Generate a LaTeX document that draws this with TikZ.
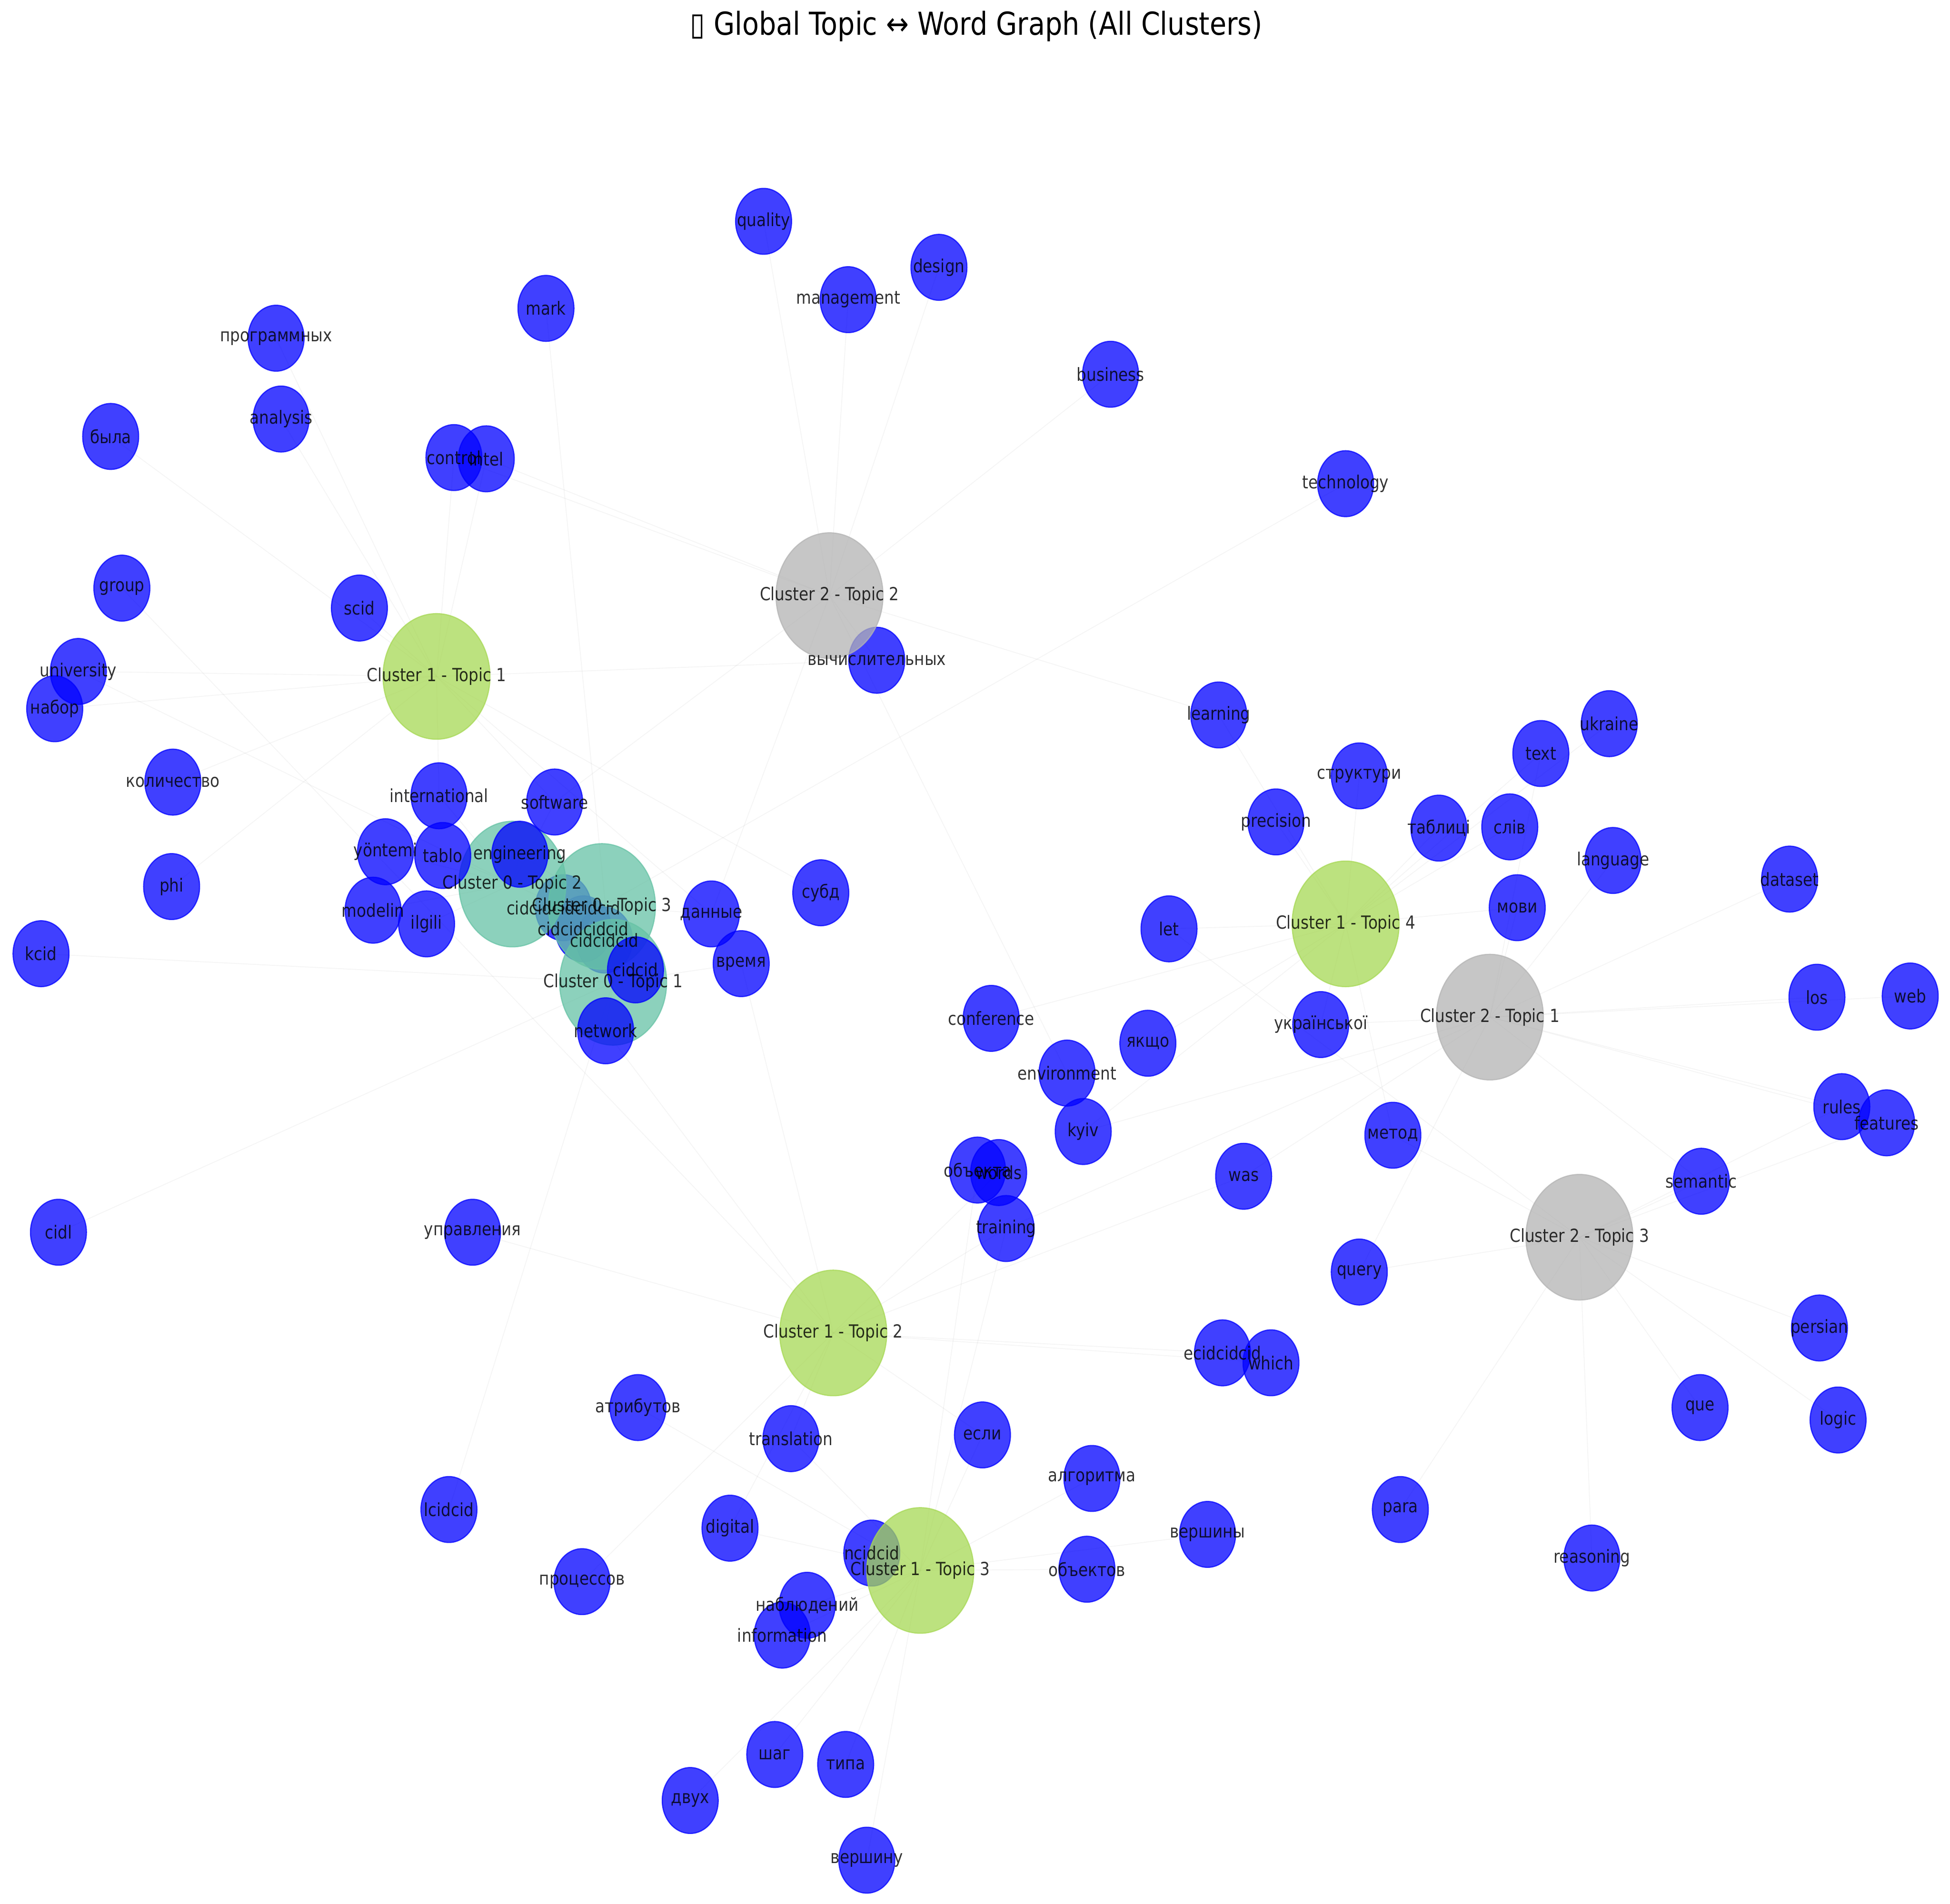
\documentclass[tikz,border=0pt]{standalone}
\usepackage{fontspec}
\setmainfont{DejaVu Sans}[FakeStretch=0.86]
\usepackage{tikz}
\usetikzlibrary{shapes.geometric}
\definecolor{wordblue}{RGB}{0, 0, 255}
\definecolor{clusterzero}{RGB}{102, 194, 165}
\definecolor{clusterone}{RGB}{166, 216, 84}
\definecolor{clustertwo}{RGB}{179, 179, 179}
\definecolor{edgegray}{RGB}{190, 190, 190}
\pgfdeclarelayer{edgelayer}
\pgfdeclarelayer{labellayer}
\pgfsetlayers{edgelayer,main,labellayer}
% node with its label on the top layer
\newcommand{\wnode}[4][word]{%
  \node[#1] (#2) at (#3) {};
  \begin{pgfonlayer}{labellayer}\node[lbl] at (#2) {#4};\end{pgfonlayer}}

\begin{document}
\begin{tikzpicture}[
    x=0.3mm, y=-0.3mm,
    word/.style={ellipse, fill=wordblue, draw=wordblue, opacity=0.75, line width=0.8pt, minimum width=13.5mm, minimum height=15.9mm, inner sep=0},
    topiczero/.style={word, fill=clusterzero, draw=clusterzero, minimum width=25.8mm, minimum height=30.3mm},
    topicone/.style={topiczero, fill=clusterone, draw=clusterone},
    topictwo/.style={topiczero, fill=clustertwo, draw=clustertwo},
    lbl/.style={font=\fontsize{12.4}{14}\selectfont, text=black, text opacity=0.8, inner sep=0},
    edge/.style={draw=edgegray, draw opacity=0.16, line width=0.6pt}
]
    \useasboundingbox (0,0) rectangle (1568,1531);
    \node[font=\fontsize{21.7}{26}\selectfont, inner sep=0] (title) at (785,21) {▯ Global Topic ↔ Word Graph (All Clusters)};

    % Words under the topics
    \wnode{vychisl}{705,531}{вычислительных}
    \wnode{ncidcid}{701,1249}{ncidcid}
    \wnode{cidfive}{453,730}{cidcidcidcidcid}
    \wnode{cidfour}{469,747}{cidcidcidcid}
    \wnode{cidthree}{486,756}{cidcidcid}

    % Topics
    \wnode[topiczero]{czt1}{493,790}{Cluster 0 - Topic 1}
    \wnode[topiczero]{czt2}{412,711}{Cluster 0 - Topic 2}
    \wnode[topiczero]{czt3}{484,729}{Cluster 0 - Topic 3}
    \wnode[topicone]{cot1}{351,544}{Cluster 1 - Topic 1}
    \wnode[topicone]{cot2}{670,1072}{Cluster 1 - Topic 2}
    \wnode[topicone]{cot3}{740,1263}{Cluster 1 - Topic 3}
    \wnode[topicone]{cot4}{1082,743}{Cluster 1 - Topic 4}
    \wnode[topictwo]{ctt1}{1198,818}{Cluster 2 - Topic 1}
    \wnode[topictwo]{ctt2}{667,479}{Cluster 2 - Topic 2}
    \wnode[topictwo]{ctt3}{1270,995}{Cluster 2 - Topic 3}

    % Words
    \wnode{quality}{614,178}{quality}
    \wnode{design}{755,215}{design}
    \wnode{management}{682,241}{management}
    \wnode{mark}{439,248}{mark}
    \wnode{programmnyh}{222,272}{программных}
    \wnode{business}{893,301}{business}
    \wnode{analysis}{226,337}{analysis}
    \wnode{byla}{89,351}{была}
    \wnode{control}{365,368}{control}
    \wnode{intel}{391,369}{intel}
    \wnode{technology}{1082,389}{technology}
    \wnode{group}{98,473}{group}
    \wnode{scid}{289,489}{scid}
    \wnode{university}{63,540}{university}
    \wnode{nabor}{44,570}{набор}
    \wnode{learning}{980,575}{learning}
    \wnode{ukraine}{1294,582}{ukraine}
    \wnode{text}{1239,606}{text}
    \wnode{kolichestvo}{139,629}{количество}
    \wnode{struktury}{1093,624}{структури}
    \wnode{international}{353,640}{international}
    \wnode{software}{446,645}{software}
    \wnode{precision}{1026,661}{precision}
    \wnode{tablytsi}{1157,666}{таблиці}
    \wnode{sliv}{1214,665}{слів}
    \wnode{yontemi}{310,685}{yöntemi}
    \wnode{tablo}{356,688}{tablo}
    \wnode{engineering}{418,687}{engineering}
    \wnode{language}{1297,692}{language}
    \wnode{dataset}{1439,707}{dataset}
    \wnode{phi}{138,713}{phi}
    \wnode{subd}{660,718}{субд}
    \wnode{modelin}{300,732}{modelin}
    \wnode{ilgili}{343,743}{ilgili}
    \wnode{dannye}{572,735}{данные}
    \wnode{movy}{1220,730}{мови}
    \wnode{let}{940,747}{let}
    \wnode{kcid}{33,767}{kcid}
    \wnode{vremya}{596,775}{время}
    \wnode{cidcid}{511,780}{cidcid}
    \wnode{network}{487,829}{network}
    \wnode{los}{1461,802}{los}
    \wnode{web}{1536,801}{web}
    \wnode{conference}{797,819}{conference}
    \wnode{ukrainskoi}{1062,824}{української}
    \wnode{yakshcho}{923,839}{якщо}
    \wnode{environment}{858,863}{environment}
    \wnode{rules}{1481,890}{rules}
    \wnode{features}{1517,903}{features}
    \wnode{kyiv}{871,910}{kyiv}
    \wnode{metod}{1120,913}{метод}
    \wnode{obiekta}{786,941}{объекта}
    \wnode{words}{803,943}{words}
    \wnode{was}{1000,946}{was}
    \wnode{semantic}{1368,950}{semantic}
    \wnode{training}{809,988}{training}
    \wnode{cidl}{47,991}{cidl}
    \wnode{upravleniya}{380,991}{управления}
    \wnode{query}{1093,1023}{query}
    \wnode{persian}{1463,1068}{persian}
    \wnode{ecidcidcid}{983,1088}{ecidcidcid}
    \wnode{which}{1022,1096}{which}
    \wnode{atributov}{513,1132}{атрибутов}
    \wnode{que}{1367,1132}{que}
    \wnode{logic}{1478,1142}{logic}
    \wnode{esli}{790,1154}{если}
    \wnode{translation}{636,1157}{translation}
    \wnode{algoritma}{878,1189}{алгоритма}
    \wnode{para}{1126,1214}{para}
    \wnode{lcidcid}{361,1214}{lcidcid}
    \wnode{digital}{587,1229}{digital}
    \wnode{vershiny}{971,1234}{вершины}
    \wnode{reasoning}{1280,1253}{reasoning}
    \wnode{obiektov}{874,1262}{объектов}
    \wnode{processov}{468,1272}{процессов}
    \wnode{nablyudeniy}{649,1291}{наблюдений}
    \wnode{information}{629,1315}{information}
    \wnode{shag}{623,1411}{шаг}
    \wnode{tipa}{680,1419}{типа}
    \wnode{dvuh}{555,1448}{двух}
    \wnode{vershinu}{697,1496}{вершину}

    % Paths
    \begin{pgfonlayer}{edgelayer}
    \foreach \w in {scid, byla, programmnyh, analysis, intel, control, nabor, university, kolichestvo, phi, vychisl, subd, dannye, international, software}
        \draw[edge] (cot1.center) -- (\w.center);
    \foreach \w in {quality, management, design, business, intel, learning, vychisl, environment, software, dannye, control}
        \draw[edge] (ctt2.center) -- (\w.center);
    \foreach \w in {network, cidcid, cidthree, cidfour, kcid, cidl, lcidcid, mark, vremya}
        \draw[edge] (czt1.center) -- (\w.center);
    \foreach \w in {yontemi, tablo, modelin, ilgili, international, engineering, software, cidfive, university}
        \draw[edge] (czt2.center) -- (\w.center);
    \foreach \w in {cidfive, cidfour, cidthree, engineering, technology, dannye, cidcid}
        \draw[edge] (czt3.center) -- (\w.center);
    \foreach \w in {learning, precision, struktury, tablytsi, sliv, movy, text, ukraine, let, yakshcho, conference, ukrainskoi, metod, kyiv}
        \draw[edge] (cot4.center) -- (\w.center);
    \foreach \w in {movy, dataset, los, web, rules, features, language, semantic, query, training, was, ukrainskoi, kyiv, text}
        \draw[edge] (ctt1.center) -- (\w.center);
    \foreach \w in {query, para, reasoning, que, logic, persian, semantic, features, metod, let, rules}
        \draw[edge] (ctt3.center) -- (\w.center);
    \foreach \w in {upravleniya, vremya, translation, digital, esli, ecidcidcid, which, training, words, group, network, processov, was}
        \draw[edge] (cot2.center) -- (\w.center);
    \foreach \w in {ncidcid, atributov, translation, esli, algoritma, obiektov, vershiny, nablyudeniy, information, shag, dvuh, tipa, vershinu, training, obiekta, digital}
        \draw[edge] (cot3.center) -- (\w.center);
    \end{pgfonlayer}
\end{tikzpicture}
\end{document}
